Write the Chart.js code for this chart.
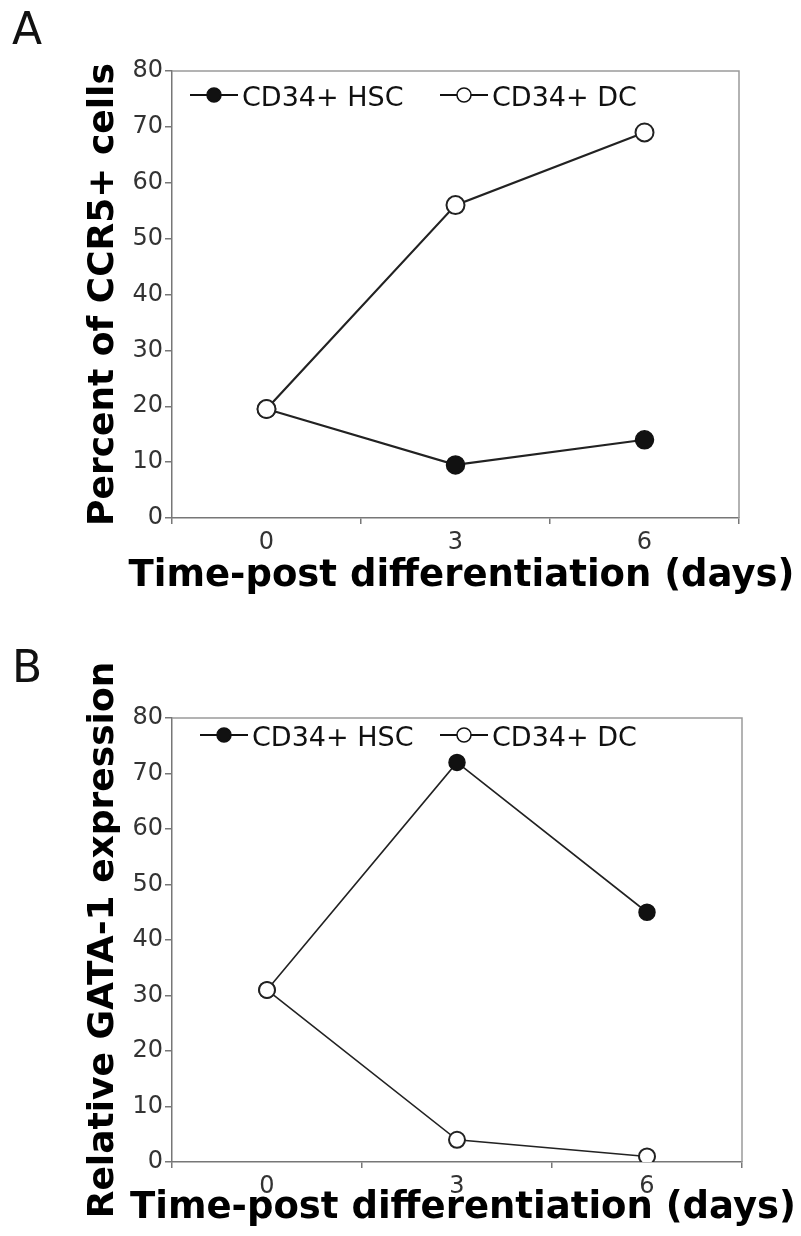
<!DOCTYPE html>
<html>
<head>
<meta charset="utf-8">
<script src="https://cdn.jsdelivr.net/npm/chart.js@4.4.0/dist/chart.umd.min.js"></script>
<style>
  body { margin: 0; background: #fff; }
  #wrap { position: relative; width: 801px; height: 1236px; overflow: hidden; }
  .panel { position: absolute; left: 0; width: 801px; height: 618px; }
  .letter { position: absolute; left: 12px; font: 44px "DejaVu Sans"; color: #111; }
</style>
</head>
<body>
<div id="wrap">
  <div class="panel" style="top:0"><canvas id="chartA" width="801" height="618"></canvas></div>
  <div class="panel" style="top:618px"><canvas id="chartB" width="801" height="618"></canvas></div>
  <div class="letter" style="top:3px">A</div>
  <div class="letter" style="top:641px">B</div>
</div>
<script>
const days = ["0", "3", "6"];

// panel A: percent of CCR5+ cells
const hscCCR5 = [19.5, 9.5, 14];
const dcCCR5 = [19.5, 56, 69];

// panel B: relative GATA-1 expression
const hscGATA1 = [31, 72, 45];
const dcGATA1 = [31, 4, 1];

const yMin = 0, yMax = 80, yStep = 10;

const FONT = "DejaVu Sans";

// top + right edges of the plot box
const frame = {
  id: "frame",
  beforeDatasetsDraw(chart) {
    const { ctx, chartArea: a } = chart;
    ctx.save();
    ctx.strokeStyle = "#9a9a9a";
    ctx.lineWidth = 1.5;
    ctx.beginPath();
    ctx.moveTo(a.left, a.top);
    ctx.lineTo(a.right, a.top);
    ctx.lineTo(a.right, a.bottom);
    ctx.stroke();
    ctx.restore();
  }
};

// legend drawn inside the plot area, line + marker style
const insideLegend = {
  id: "insideLegend",
  afterDatasetsDraw(chart, args, opts) {
    const { ctx, chartArea: a } = chart;
    ctx.save();
    ctx.font = `27px "${FONT}"`;
    ctx.textBaseline = "middle";
    chart.data.datasets.forEach((ds, i) => {
      const x = a.left + opts.xs[i];
      const y = a.top + opts.y;
      ctx.strokeStyle = "#111";
      ctx.lineWidth = 2;
      ctx.beginPath();
      ctx.moveTo(x, y - 4);
      ctx.lineTo(x + 48, y - 4);
      ctx.stroke();
      ctx.beginPath();
      ctx.arc(x + 24, y - 4, 7, 0, Math.PI * 2);
      ctx.fillStyle = ds.pointBackgroundColor;
      ctx.fill();
      ctx.lineWidth = 1.5;
      ctx.stroke();
      ctx.fillStyle = "#111";
      ctx.fillText(ds.label, x + 52, y);
    });
    ctx.restore();
  }
};

// x axis title, drawn without the axis-width squeeze chart.js applies
const xTitle = {
  id: "xTitle",
  afterDraw(chart, args, opts) {
    const { ctx, chartArea: a } = chart;
    ctx.save();
    ctx.font = `bold 37px "${FONT}"`;
    ctx.fillStyle = "#000";
    ctx.textAlign = "center";
    ctx.textBaseline = "middle";
    ctx.fillText(opts.text, (a.left + a.right) / 2 + 6, a.bottom + opts.dy);
    ctx.restore();
  }
};

function makeChart(id, hsc, dc, yTitle, pad, legendOpts, titleDy, ptRadius, lineW) {
  const ctx = document.getElementById(id).getContext("2d");
  return new Chart(ctx, {
    type: "line",
    data: {
      labels: days,
      datasets: [
        {
          label: "CD34+ HSC",
          data: hsc,
          borderColor: "#222",
          borderWidth: lineW,
          pointRadius: ptRadius,
          pointBackgroundColor: "#111",
          pointBorderColor: "#111",
          pointBorderWidth: 1.5,
          tension: 0,
          order: 1
        },
        {
          label: "CD34+ DC",
          data: dc,
          borderColor: "#222",
          borderWidth: lineW,
          pointRadius: ptRadius,
          pointBackgroundColor: "#fff",
          pointBorderColor: "#222",
          pointBorderWidth: 2,
          tension: 0,
          order: 0
        }
      ]
    },
    options: {
      responsive: false,
      animation: false,
      events: [],
      layout: { padding: pad },
      plugins: {
        legend: { display: false },
        tooltip: { enabled: false },
        insideLegend: legendOpts,
        xTitle: { text: "Time-post differentiation (days)", dy: titleDy }
      },
      scales: {
        x: {
          offset: true,
          grid: { offset: true, drawOnChartArea: false, tickLength: 6, color: "#777", lineWidth: 1.5 },
          border: { color: "#777", width: 1.5 },
          ticks: { font: { family: FONT, size: 24 }, color: "#333", padding: 4 },
          title: { display: false },
          afterFit: s => { s.height = 74; }
        },
        y: {
          min: yMin,
          max: yMax,
          grid: { drawOnChartArea: false, tickLength: 7, color: "#777", lineWidth: 1.5 },
          border: { color: "#777", width: 1.5 },
          ticks: { stepSize: yStep, font: { family: FONT, size: 24 }, color: "#333", padding: 2 },
          title: {
            display: true,
            text: yTitle,
            font: { family: FONT, size: 36, weight: "bold" },
            color: "#000",
            padding: { top: 2, bottom: 0 }
          },
          afterFit: s => { s.width = 92; }
        }
      }
    },
    plugins: [frame, insideLegend, xTitle]
  });
}

makeChart("chartA", hscCCR5, dcCCR5, "Percent of CCR5+ cells",
  { left: 80, top: 71, right: 62, bottom: 26 }, { xs: [18, 268], y: 28 }, 58, 9, 2.2);
makeChart("chartB", hscGATA1, dcGATA1, "Relative GATA-1 expression",
  { left: 80, top: 100, right: 59, bottom: 0 }, { xs: [28, 268], y: 21 }, 46, 8, 1.6);
</script>
</body>
</html>
